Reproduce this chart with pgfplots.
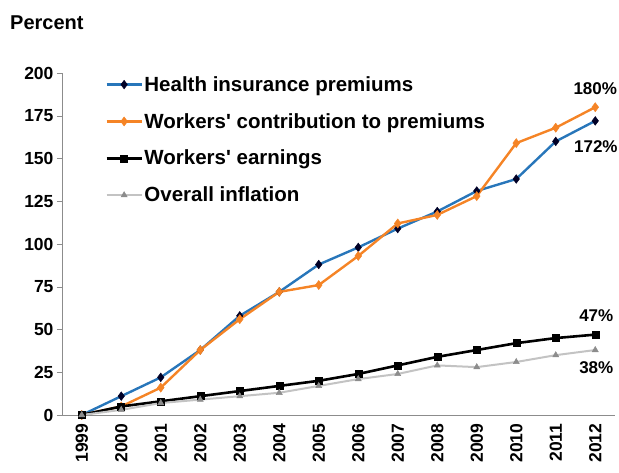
\documentclass[border=0pt]{standalone}
\usepackage{pgfplots}
\pgfplotsset{compat=1.18}
\usepackage{fontspec}
\setmainfont{Liberation Sans}[Ligatures=TeXOff]
\definecolor{hblue}{RGB}{40,118,186}
\definecolor{worange}{RGB}{245,132,38}
\definecolor{infgray}{RGB}{195,195,195}
\definecolor{axgray}{RGB}{140,140,140}
\begin{document}
\begin{tikzpicture}
\useasboundingbox (-62pt,-57pt) rectangle (557pt,415pt);
\begin{axis}[
  at={(0pt,0pt)}, anchor=south west,
  scale only axis,
  width=553pt, height=342pt,
  xmin=-0.5, xmax=13.5,
  ymin=0, ymax=200,
  ytick={0,25,...,200},
  xtick={0,...,13},
  xticklabels={1999,2000,2001,2002,2003,2004,2005,2006,2007,2008,2009,2010,2011,2012},
  minor xtick={-0.5,0.5,...,13.5},
  axis x line*=bottom, axis y line*=left,
  axis line style={axgray, -},
  tick align=outside,
  major tick length=5pt,
  x tick style={draw=none},
  minor tick length=6pt,
  minor x tick style={axgray},
  y tick style={axgray},
  tick label style={font=\bfseries\fontsize{17.5}{17.5}\selectfont},
  /pgf/number format/assume math mode=true,
  x tick label style={rotate=90, anchor=east},
  clip=false,
  legend style={draw=none, fill=none, at={(0.078,0.995)}, anchor=north west,
    font=\bfseries\fontsize{20.5}{20.5}\selectfont, row sep=17.5pt,
    inner sep=0pt, nodes={inner sep=1.5pt}},
  legend cell align=left,
  legend image code/.code={
    \draw[#1] (0pt,0pt) -- (35pt,0pt);
    \path[#1] plot coordinates {(17.5pt,0pt)};
  },
]
\addplot[hblue, line width=2.4pt, mark=diamond*, mark size=4.3pt,
  mark options={fill=black!85!blue, draw=black!85!blue, line width=0.5pt}]
  coordinates {(0,0) (1,11) (2,22) (3,38) (4,58) (5,72) (6,88) (7,98) (8,109) (9,119) (10,131) (11,138) (12,160) (13,172)};
\addlegendentry{Health insurance premiums}
\addplot[worange, line width=2.4pt, mark=diamond*, mark size=4.5pt,
  mark options={fill=worange, draw=worange, line width=0.5pt}]
  coordinates {(0,0) (1,5) (2,16) (3,38) (4,56) (5,72) (6,76) (7,93) (8,112) (9,117) (10,128) (11,159) (12,168) (13,180)};
\addlegendentry{Workers' contribution to premiums}
\addplot[black, line width=2.6pt, mark=square*, mark size=3.5pt,
  mark options={fill=black, draw=black, line width=0.5pt}]
  coordinates {(0,0) (1,5) (2,8) (3,11) (4,14) (5,17) (6,20) (7,24) (8,29) (9,34) (10,38) (11,42) (12,45) (13,47)};
\addlegendentry{Workers' earnings}
\addplot[infgray, line width=2pt, mark=triangle*, mark size=3.5pt,
  mark options={fill=black!45, draw=black!45, line width=0.5pt}]
  coordinates {(0,0) (1,3) (2,7) (3,9) (4,11) (5,13) (6,17) (7,21) (8,24) (9,29) (10,28) (11,31) (12,35) (13,38)};
\addlegendentry{Overall inflation}
\node[font=\bfseries\fontsize{17}{17}\selectfont] at (axis cs:13.0,191) {180\%};
\node[font=\bfseries\fontsize{17}{17}\selectfont, anchor=west, inner sep=0pt] at (axis cs:12.46,157) {172\%};
\node[font=\bfseries\fontsize{17}{17}\selectfont, anchor=west, inner sep=0pt] at (axis cs:12.59,58) {47\%};
\node[font=\bfseries\fontsize{17}{17}\selectfont, anchor=west, inner sep=0pt] at (axis cs:12.59,27.5) {38\%};
\end{axis}
\node[font=\bfseries\fontsize{20}{20}\selectfont, anchor=west, inner sep=0pt] at (-52pt,392pt) {Percent};
\end{tikzpicture}
\end{document}
